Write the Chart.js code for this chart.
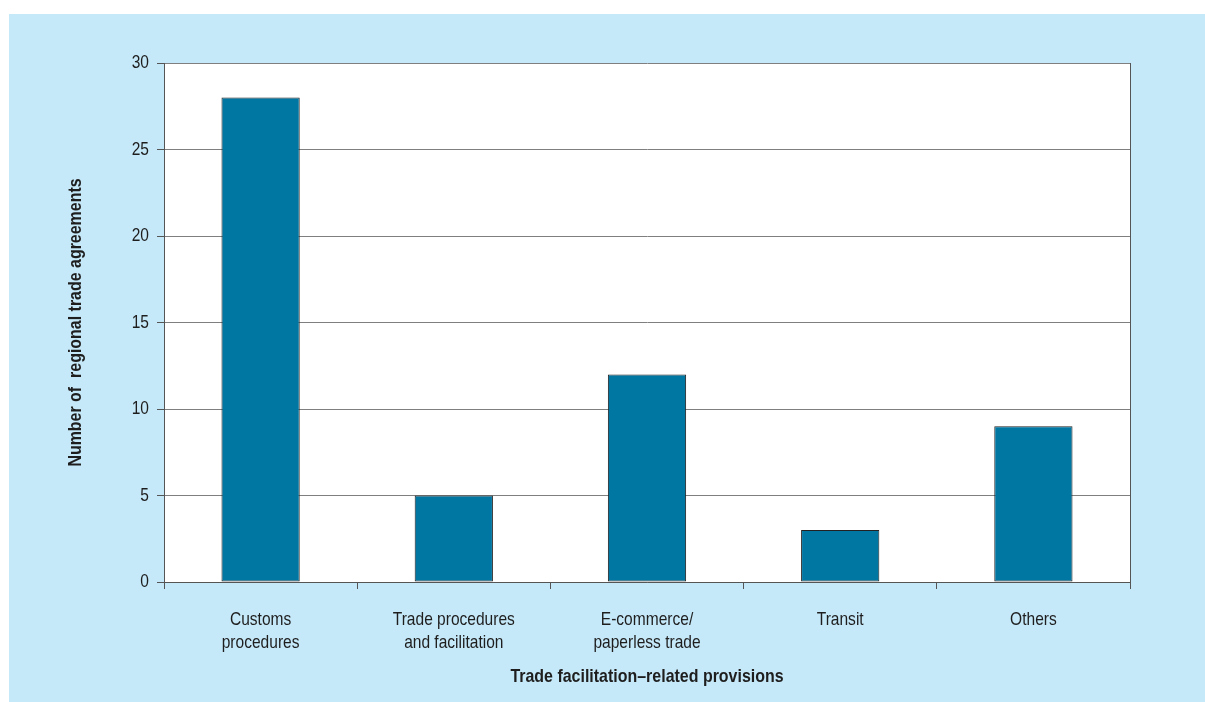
<!DOCTYPE html>
<html>
<head>
<meta charset="utf-8">
<script src="https://cdn.jsdelivr.net/npm/chart.js@4/dist/chart.umd.min.js"></script>
<style>
  html, body { margin: 0; padding: 0; background: #ffffff; }
  #panel { position: absolute; left: 9px; top: 14px; right: 0; bottom: 0; background: #c6e9f9; }
  #wrap { position: absolute; left: 0; top: 0; width: 1205px; height: 702px; }
</style>
</head>
<body>
<div id="panel"></div>
<div id="wrap"><canvas id="chart" width="1205" height="702"></canvas></div>
<script>
// Trade facilitation-related provisions in regional trade agreements
const categories = [
  ['Customs', 'procedures'],
  ['Trade procedures', 'and facilitation'],
  ['E-commerce/', 'paperless trade'],
  ['Transit'],
  ['Others']
];
const agreementCounts = [28, 5, 12, 3, 9];
const yTicks = [0, 5, 10, 15, 20, 25, 30];

const FONT = '"Liberation Sans", Arial, sans-serif';
const INK = '#1e1e1e';
const TEXT_SQUEEZE = 0.84; // condensed lettering

const canvas = document.getElementById('chart');
const ctx2d = canvas.getContext('2d');
// draw all labels with a narrower set width, anchored at the text origin
const baseFillText = ctx2d.fillText.bind(ctx2d);
ctx2d.fillText = function (text, x, y, maxWidth) {
  this.save();
  this.translate(x, y);
  this.scale(TEXT_SQUEEZE, 1);
  if (maxWidth === undefined) baseFillText(text, 0, 0);
  else baseFillText(text, 0, 0, maxWidth / TEXT_SQUEEZE);
  this.restore();
};

// white plot background behind the bars
const plotBackground = {
  id: 'plotBackground',
  beforeDraw(chart) {
    const { ctx, chartArea: a } = chart;
    ctx.save();
    ctx.fillStyle = '#ffffff';
    ctx.fillRect(a.left, a.top, a.right - a.left, a.bottom - a.top);
    ctx.restore();
  }
};

new Chart(canvas, {
  type: 'bar',
  data: {
    labels: categories,
    datasets: [{
      data: agreementCounts,
      backgroundColor: '#0076a3',
      borderColor: '#222222',
      borderWidth: 1,
      borderSkipped: false,
      categoryPercentage: 1.0,
      barPercentage: 0.405
    }]
  },
  options: {
    responsive: false,
    animation: false,
    devicePixelRatio: 1,
    layout: { padding: { left: 0, top: 63, right: 75, bottom: 0 } },
    plugins: {
      legend: { display: false },
      tooltip: { enabled: false }
    },
    scales: {
      x: {
        offset: true,
        grid: {
          offset: true,
          drawOnChartArea: false,
          drawTicks: true,
          tickLength: 7,
          color: '#555555'
        },
        border: { display: true, color: '#555555', width: 1 },
        ticks: {
          color: INK,
          font: { family: FONT, size: 18.5, lineHeight: 1.22 },
          padding: 20,
          maxRotation: 0,
          autoSkip: false
        },
        title: {
          display: true,
          text: 'Trade facilitation–related provisions',
          color: INK,
          font: { family: FONT, size: 19, weight: 'bold' },
          padding: { top: 0, bottom: 14 }
        },
        afterFit(scale) { scale.height = 120; }
      },
      y: {
        min: 0,
        max: 30,
        afterBuildTicks(scale) { scale.ticks = yTicks.map(v => ({ value: v })); },
        grid: {
          color: '#7f7f7f',
          lineWidth: 1,
          drawTicks: true,
          tickLength: 7,
          tickColor: '#555555'
        },
        border: { display: true, color: '#555555', width: 1 },
        ticks: {
          color: INK,
          font: { family: FONT, size: 18.5 },
          padding: 8
        },
        title: {
          display: true,
          text: 'Number of  regional trade agreements',
          color: INK,
          font: { family: FONT, size: 19, weight: 'bold' },
          padding: { top: 64, bottom: 0 }
        },
        afterFit(scale) { scale.width = 164; }
      },
      yRight: {
        position: 'right',
        min: 0,
        max: 30,
        grid: { display: false, drawTicks: false },
        ticks: { display: false },
        border: { display: true, color: '#555555', width: 1 },
        afterFit(scale) { scale.width = 0; }
      }
    }
  },
  plugins: [plotBackground]
});
</script>
</body>
</html>
